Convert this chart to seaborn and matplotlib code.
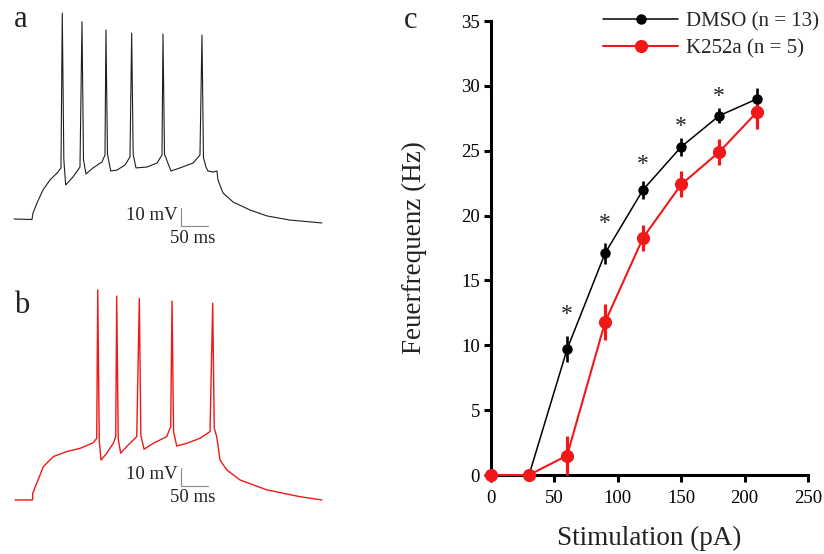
import pandas as pd
import seaborn as sns
import matplotlib.pyplot as plt

# ---------------- data ----------------

# trace a (DMSO): time (ms), membrane potential (mV)
t_a = [-33.3, 0, 1.9, 9.3, 20.4, 33.3, 48.1, 53.7, 56.1, 59, 62.4, 75.9, 88.9, 92.6,
       95.4, 100, 113, 129.6, 135.2, 137, 139.8, 145.8, 157.4, 172.2, 181.5, 184.6,
       187.4, 192.6, 213, 231.5, 240.8, 242.6, 245.4, 257.4, 274.1, 298.2, 311.1,
       314.8, 317.6, 322.2, 325.9, 335.2, 342.6, 344.4, 353.7, 372.2, 403.7, 435.2,
       477.8, 537]
v_a = [-70, -70.3, -66.7, -61.1, -53.9, -48.3, -43.9, -41.6, 44.5, -37, -51.1, -46.6,
       -41.1, 39.7, -37, -45, -41.6, -38.3, -34.4, 35.1, -34, -43.3, -42.8, -40, -35.5,
       33.4, -34, -41.6, -41.1, -38.9, -34.4, 32.9, -34, -43.3, -41.6, -38.9, -34.4,
       32.3, -36, -41.1, -43.3, -43.9, -43.3, -48.3, -55.5, -60.5, -65, -68.3, -70.6,
       -72.2]

# trace b (K252a)
t_b = [-32.4, 0, 0.4, 7.8, 20, 38.5, 63.3, 88, 112.6, 118.9, 120.8, 123.6, 126.9,
       137.4, 149.6, 154.1, 155.9, 158.7, 163.3, 177.4, 193, 197.8, 200.6, 206.5,
       223.7, 248.5, 255.9, 258.4, 261.2, 267.1, 285.6, 310.2, 328.7, 333.7, 336.5,
       341.1, 347.2, 359.7, 384.3, 433.7, 495.4, 535.6]
v_b = [-70, -70, -66.3, -60.7, -51.5, -45.9, -43.1, -41.3, -38.2, -35.7, 46.8, -37,
       -47.8, -44, -38.5, -34.8, 43.4, -36, -44, -39.4, -34.8, 42.1, -34, -41.8, -38.5,
       -34.8, -29.2, 40.6, -32, -40, -38.5, -35.7, -32, 39.4, -30, -34.8, -47.8, -53.3,
       -58.9, -64.4, -68.2, -70]

# panel c: firing frequency vs. stimulation
stim = [0, 30, 60, 90, 120, 150, 180, 210]
dmso_hz = [0, 0, 9.7, 17.1, 22.0, 25.3, 27.7, 29.0]
dmso_sem = [0, 0, 1.0, 0.8, 0.7, 0.7, 0.6, 0.8]
k252a_hz = [0, 0, 1.5, 11.8, 18.3, 22.4, 24.9, 28.0]
k252a_sem = [0, 0, 1.5, 1.4, 1.0, 1.0, 1.0, 1.3]
star_x = [60, 90, 120, 150, 180]
star_y = [12.4, 19.4, 23.9, 26.9, 29.2]

RED = "#f01818"
W, H = 824, 554

sns.set_style("white")
plt.rcParams['font.family'] = ['Liberation Serif', 'DejaVu Serif']

fig = plt.figure(figsize=(W / 100, H / 100), dpi=100)


def px_axes(x0, y0, x1, y1):
    return fig.add_axes([x0 / W, 1 - y1 / H, (x1 - x0) / W, (y1 - y0) / H])


def scale_bar(ax, t0, v0, txt_v, lbl_top):
    ax.plot([t0, t0, t0 + 50], [v0 + 10, v0, v0], color="#8a8a8a", lw=0.8)
    ax.text(t0 - 7, txt_v, "10 mV", ha="right", va="center", fontsize=13.5, color="#222222")
    ax.text(t0 + 22, lbl_top, "50 ms", ha="center", va="top", fontsize=13.5, color="#222222")


# ----- trace a -----
ax_a = px_axes(10, 5, 326, 235)
sns.lineplot(x=t_a, y=v_a, ax=ax_a, color="#1e1e1e", lw=0.8, sort=False, estimator=None)
ax_a.set_xlim(-40.7, 544.5)
ax_a.set_ylim(-78.9, 49)
scale_bar(ax_a, 276, -73.9, -68.2, -76.2)
ax_a.axis("off")

# ----- trace b -----
ax_b = px_axes(10, 275, 326, 510)
sns.lineplot(x=t_b, y=v_b, ax=ax_b, color=RED, lw=1.0, sort=False, estimator=None)
ax_b.set_xlim(-41.7, 543.5)
ax_b.set_ylim(-75.6, 55.1)
scale_bar(ax_b, 275, -62.2, -56.1, -64.0)
ax_b.axis("off")

# ----- panel c -----
ax = px_axes(491, 21, 808, 475)
df = pd.DataFrame({"stim": stim + stim,
                   "hz": dmso_hz + k252a_hz,
                   "err": dmso_sem + k252a_sem,
                   "group": ["DMSO (n = 13)"] * len(stim) + ["K252a (n = 5)"] * len(stim)})

styles = {"DMSO (n = 13)": ("black", 7.5, 1.1, 1.9),
          "K252a (n = 5)": (RED, 9.5, 1.5, 2.3)}
for name, (col, ms, lw, elw) in styles.items():
    sub = df[df["group"] == name]
    ax.vlines(sub["stim"], sub["hz"] - sub["err"], sub["hz"] + sub["err"], color=col,
              lw=elw, clip_on=False, zorder=3)
    sns.lineplot(data=sub, x="stim", y="hz", ax=ax, color=col, lw=lw, marker="o",
                 markersize=ms, markeredgewidth=0, label=name, clip_on=False,
                 zorder=4)

for x, y in zip(star_x, star_y):
    ax.text(x, y, "*", ha="center", va="center", fontsize=17, color="#222222")

ax.set_xlim(0, 250)
ax.set_ylim(0, 35)
ax.set_xticks(range(0, 251, 50))
ax.set_yticks(range(0, 36, 5))
for s in ["top", "right"]:
    ax.spines[s].set_visible(False)
for s in ["left", "bottom"]:
    ax.spines[s].set_linewidth(2.2)
    ax.spines[s].set_color("black")
ax.tick_params(direction="out", length=5, width=2.2, labelsize=13.5, colors="black",
               pad=3, bottom=True, left=True)
ax.tick_params(axis="x", pad=6)
ax.set_xlabel("Stimulation (pA)", fontsize=19.5, color="#222222")
ax.set_ylabel("Feuerfrequenz (Hz)", fontsize=19.5, color="#222222")
ax.xaxis.set_label_coords(0.5, -0.112)
ax.yaxis.set_label_coords(-0.202, 0.5)

ax.legend(loc="upper left", bbox_to_anchor=(603 / W, 1 - 12 / H),
          bbox_transform=fig.transFigure, frameon=False, fontsize=15,
          handlelength=3.6, handletextpad=0.4, labelspacing=0.35, borderpad=0,
          borderaxespad=0)

# panel letters
fig.text(14 / W, 1 - 27 / H, "a", fontsize=22, va="baseline", color="#222222")
fig.text(14 / W, 1 - 313 / H, "b", fontsize=22, va="baseline", color="#222222")
fig.text(404 / W, 1 - 28 / H, "c", fontsize=22, va="baseline", color="#222222")

plt.savefig("out.png", dpi=100)
